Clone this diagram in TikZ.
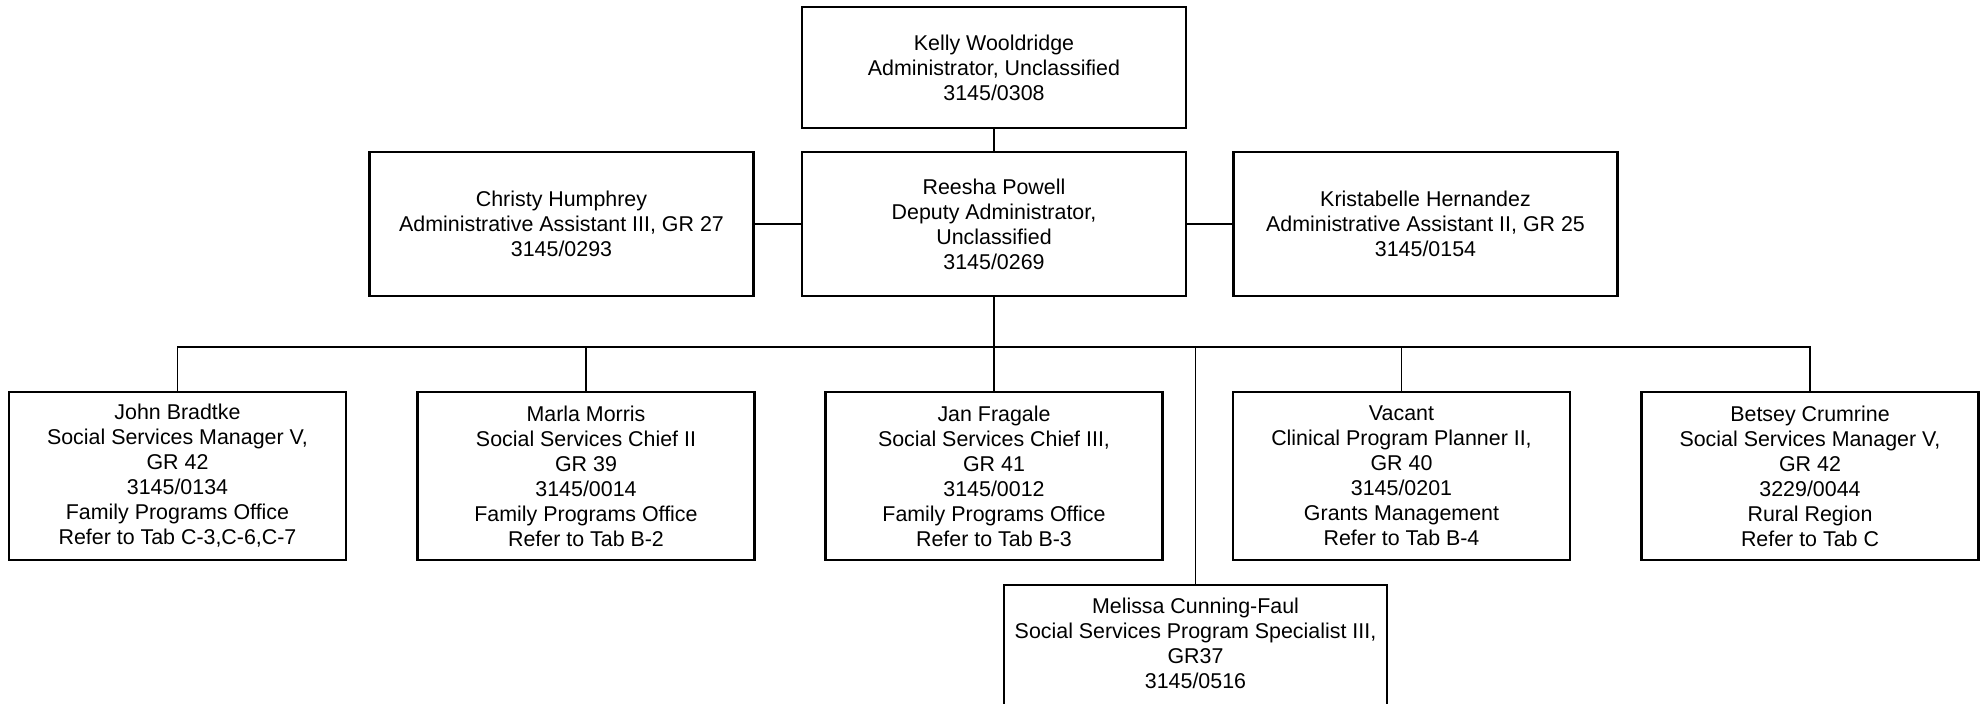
\documentclass[tikz,border=0pt]{standalone}
\usepackage{fontspec}
\setmainfont{Liberation Sans}
\usetikzlibrary{positioning}

\begin{document}
\begin{tikzpicture}[
  x=0.5pt,y=-0.5pt,
  font=\fontsize{10.7}{12.5}\selectfont,
  box/.style={draw,line width=1.1pt,align=center,inner sep=0pt,
              minimum width=168.5pt,minimum height=84pt},
  wide/.style={box,minimum width=192pt,minimum height=72pt},
  link/.style={line width=0.9pt},
]
  \useasboundingbox (0,0) rectangle (1987,703);

  \node[wide,minimum height=60.5pt] (kelly) at (994,67.5)
        {Kelly Wooldridge\\Administrator, Unclassified\\3145/0308};
  \node[wide] (reesha) at (994,224)
        {Reesha Powell\\Deputy Administrator,\\Unclassified\\3145/0269};
  \node[wide] (christy) at (561.5,224)
        {Christy Humphrey\\Administrative Assistant III, GR 27\\3145/0293};
  \node[wide] (kristabelle) at (1425.5,224)
        {Kristabelle Hernandez\\Administrative Assistant II, GR 25\\3145/0154};

  \node[box] (john)   at (177.5,476)
        {John Bradtke\\Social Services Manager V,\\GR 42\\3145/0134\\
         Family Programs Office\\Refer to Tab C-3,C-6,C-7};
  \node[box] (marla)  at (586,476)
        {Marla Morris\\Social Services Chief II\\GR 39\\3145/0014\\
         Family Programs Office\\Refer to Tab B-2};
  \node[box] (jan)    at (994,476)
        {Jan Fragale\\Social Services Chief III,\\GR 41\\3145/0012\\
         Family Programs Office\\Refer to Tab B-3};
  \node[box] (vacant) at (1401.5,476)
        {Vacant\\Clinical Program Planner II,\\GR 40\\3145/0201\\
         Grants Management\\Refer to Tab B-4};
  \node[box] (betsey) at (1810,476)
        {Betsey Crumrine\\Social Services Manager V,\\GR 42\\3229/0044\\
         Rural Region\\Refer to Tab C};
  \node[box,anchor=north,minimum width=191.5pt,inner ysep=6.5pt,
        text depth=60pt] (melissa) at (1195.5,584)
        {Melissa Cunning-Faul\\Social Services Program Specialist III,\\
         GR37\\3145/0516};

  \coordinate (bus) at (994,347);

  \draw[link] (kelly) -- (reesha);
  \draw[link] (christy) -- (reesha);
  \draw[link] (reesha) -- (kristabelle);
  \draw[link] (reesha.south) -- (bus);
  \draw[link] (john.north) -- (john.north |- bus) -| (betsey.north);
  \foreach \n in {marla,jan,vacant,melissa}
    \draw[link] (\n.north) -- (\n.north |- bus);
\end{tikzpicture}
\end{document}
